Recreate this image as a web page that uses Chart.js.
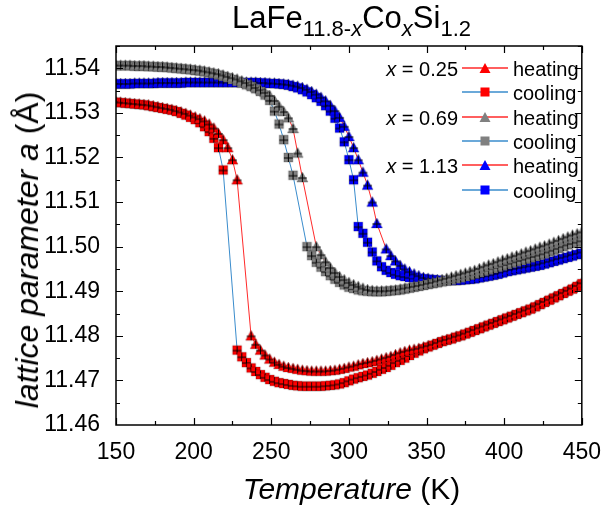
<!DOCTYPE html>
<html>
<head>
<meta charset="utf-8">
<script src="https://cdn.jsdelivr.net/npm/chart.js@4.4.1/dist/chart.umd.min.js"></script>
<style>
  html, body { margin: 0; padding: 0; background: #fff; }
  #wrap { position: relative; width: 607px; height: 509px; font-family: "Liberation Sans", Arial, sans-serif; color: #000; }
  #wrap canvas { position: absolute; left: 0; top: 0; }
  .title { position: absolute; left: 116px; width: 471px; top: 0px; text-align: center; font-size: 31px; line-height: 36px; }
  .title sub { font-size: 22px; vertical-align: -8px; line-height: 0; }
  .xtitle { position: absolute; left: 116px; width: 471px; top: 471px; text-align: center; font-size: 30px; line-height: 36px; }
  .ytitle { position: absolute; left: 27px; top: 250px; transform: translate(-50%, -50%) rotate(-90deg); white-space: nowrap; font-size: 32px; line-height: 38px; }
  .legend { position: absolute; left: 382px; top: 57px; font-size: 20px; }
  .row { position: absolute; height: 24px; line-height: 24px; white-space: nowrap; }
  .row .lab { position: absolute; left: 0; width: 76px; text-align: right; }
  .row svg { position: absolute; left: 80px; top: 6px; }
  .row .txt { position: absolute; left: 131px; }
</style>
</head>
<body>
<div id="wrap">
  <canvas id="c" width="607" height="509"></canvas>
  <div class="title">LaFe<sub>11.8-<i>x</i></sub>Co<sub><i>x</i></sub>Si<sub>1.2</sub></div>
  <div class="xtitle"><i>Temperature</i> (K)</div>
  <div class="ytitle"><i>lattice parameter a</i> (Å)</div>
  <div class="legend" id="legend"></div>
</div>
<script>
// temperature grid (K)
const temps = [
  150,153,156,159,162,165,168,171,174,177,
  180,183,186,189,192,195,198,201,204,207,
  210,213,216,219,222,225,228,231,234,237,
  240,243,246,249,252,255,258,261,264,267,
  270,273,276,279,282,285,288,291,294,297,
  300,303,306,309,312,315,318,321,324,327,
  330,333,336,339,342,345,348,351,354,357,
  360,363,366,369,372,375,378,381,384,387,
  390,393,396,399,402,405,408,411,414,417,
  420,423,426,429,432,435,438,441,444,447,
  450
];

// x = 0.25
const heat025 = [
  11.5325,11.5324,11.5323,11.5322,11.5321,11.5320,11.5319,11.5318,11.5316,11.5314,
  11.5312,11.5310,11.5308,11.5305,11.5302,11.5299,11.5295,11.5291,11.5287,11.5282,
  11.5275,11.5266,11.5254,11.5240,11.5222,11.5195,11.5150,null,null,11.4800,
  11.4781,11.4768,11.4757,11.4748,11.4741,11.4736,11.4732,11.4729,11.4727,11.4725,
  11.4723,11.4722,11.4721,11.4721,11.4721,11.4721,11.4722,11.4723,11.4725,11.4727,
  11.4730,11.4732,11.4735,11.4738,11.4740,11.4742,11.4745,11.4748,11.4751,11.4754,
  11.4758,11.4762,11.4765,11.4768,11.4770,11.4772,11.4775,11.4778,11.4781,11.4785,
  11.4789,11.4792,11.4795,11.4799,11.4802,11.4806,11.4810,11.4814,11.4818,11.4822,
  11.4826,11.4830,11.4834,11.4838,11.4842,11.4846,11.4850,11.4854,11.4858,11.4862,
  11.4867,11.4872,11.4877,11.4882,11.4887,11.4892,11.4897,11.4902,11.4907,11.4913,
  11.4919
];
const cool025 = [
  11.5324,11.5323,11.5322,11.5321,11.5320,11.5319,11.5318,11.5316,11.5314,11.5312,
  11.5310,11.5308,11.5306,11.5303,11.5299,11.5295,11.5290,11.5285,11.5278,11.5269,
  11.5258,11.5243,11.5222,11.5172,null,null,11.4768,11.4753,11.4740,11.4728,
  11.4720,11.4713,11.4707,11.4702,11.4698,11.4695,11.4693,11.4691,11.4689,11.4688,
  11.4687,11.4687,11.4687,11.4687,11.4687,11.4688,11.4689,11.4690,11.4692,11.4695,
  11.4699,11.4703,11.4706,11.4709,11.4712,11.4716,11.4720,11.4725,11.4729,11.4734,
  11.4740,11.4745,11.4750,11.4756,11.4761,11.4766,11.4771,11.4775,11.4779,11.4783,
  11.4787,11.4790,11.4793,11.4797,11.4800,11.4804,11.4808,11.4812,11.4816,11.4820,
  11.4824,11.4828,11.4832,11.4836,11.4840,11.4844,11.4848,11.4852,11.4856,11.4860,
  11.4865,11.4870,11.4875,11.4880,11.4885,11.4890,11.4895,11.4900,11.4905,11.4911,
  11.4917
];

// x = 0.69
const heat069 = [
  11.5407,11.5407,11.5407,11.5407,11.5406,11.5406,11.5406,11.5405,11.5405,11.5404,
  11.5404,11.5403,11.5402,11.5401,11.5400,11.5399,11.5398,11.5397,11.5396,11.5394,
  11.5392,11.5390,11.5388,11.5385,11.5382,11.5379,11.5376,11.5372,11.5368,11.5363,
  11.5357,11.5352,11.5346,11.5339,11.5328,11.5315,11.5303,11.5289,11.5265,11.5210,
  11.5155,null,null,11.5000,11.4982,11.4966,11.4953,11.4942,11.4933,11.4926,
  11.4920,11.4915,11.4911,11.4907,11.4904,11.4902,11.4901,11.4901,11.4901,11.4902,
  11.4903,11.4905,11.4907,11.4909,11.4911,11.4913,11.4915,11.4918,11.4920,11.4923,
  11.4926,11.4929,11.4932,11.4935,11.4938,11.4941,11.4944,11.4947,11.4951,11.4955,
  11.4959,11.4962,11.4966,11.4970,11.4973,11.4977,11.4980,11.4984,11.4988,11.4991,
  11.4995,11.4999,11.5002,11.5006,11.5010,11.5014,11.5018,11.5022,11.5026,11.5029,
  11.5033
];
const cool069 = [
  11.5406,11.5406,11.5406,11.5406,11.5405,11.5405,11.5405,11.5404,11.5404,11.5403,
  11.5403,11.5402,11.5401,11.5400,11.5399,11.5398,11.5397,11.5395,11.5394,11.5392,
  11.5390,11.5388,11.5385,11.5382,11.5379,11.5375,11.5371,11.5367,11.5363,11.5359,
  11.5354,11.5348,11.5340,11.5328,11.5304,11.5275,11.5240,11.5200,11.5160,null,
  null,11.5000,11.4980,11.4965,11.4954,11.4944,11.4935,11.4927,11.4920,11.4914,
  11.4909,11.4906,11.4903,11.4901,11.4900,11.4899,11.4899,11.4899,11.4900,11.4901,
  11.4902,11.4903,11.4905,11.4907,11.4909,11.4911,11.4913,11.4915,11.4917,11.4919,
  11.4921,11.4923,11.4925,11.4928,11.4930,11.4933,11.4936,11.4939,11.4942,11.4945,
  11.4948,11.4951,11.4954,11.4957,11.4960,11.4963,11.4966,11.4969,11.4972,11.4975,
  11.4978,11.4981,11.4984,11.4988,11.4992,11.4996,11.5000,11.5004,11.5007,11.5010,
  11.5013
];

// x = 1.13
const heat113 = [
  11.5366,11.5366,11.5366,11.5366,11.5367,11.5367,11.5367,11.5367,11.5367,11.5368,
  11.5368,11.5368,11.5368,11.5368,11.5368,11.5369,11.5369,11.5369,11.5369,11.5369,
  11.5369,11.5369,11.5369,11.5369,11.5369,11.5369,11.5369,11.5369,11.5369,11.5369,
  11.5369,11.5368,11.5368,11.5367,11.5367,11.5366,11.5365,11.5364,11.5362,11.5360,
  11.5357,11.5353,11.5348,11.5342,11.5335,11.5327,11.5317,11.5305,11.5290,11.5270,
  11.5247,11.5222,11.5195,11.5167,11.5138,11.5100,11.5052,null,11.4995,11.4980,
  11.4968,11.4958,11.4950,11.4944,11.4939,11.4935,11.4931,11.4929,11.4927,11.4926,
  11.4925,11.4925,11.4925,11.4925,11.4926,11.4927,11.4928,11.4929,11.4931,11.4933,
  11.4935,11.4937,11.4940,11.4943,11.4946,11.4949,11.4951,11.4953,11.4955,11.4957,
  11.4959,11.4961,11.4964,11.4967,11.4970,11.4973,11.4976,11.4979,11.4982,11.4985,
  11.4988
];
const cool113 = [
  11.5365,11.5365,11.5365,11.5365,11.5366,11.5366,11.5366,11.5366,11.5366,11.5367,
  11.5367,11.5367,11.5367,11.5367,11.5367,11.5368,11.5368,11.5368,11.5368,11.5368,
  11.5368,11.5368,11.5368,11.5368,11.5368,11.5368,11.5368,11.5368,11.5368,11.5368,
  11.5368,11.5367,11.5367,11.5366,11.5366,11.5365,11.5364,11.5362,11.5359,11.5356,
  11.5352,11.5347,11.5341,11.5334,11.5326,11.5316,11.5304,11.5288,11.5266,11.5235,
  11.5195,11.5150,11.5045,11.5030,11.5010,11.4988,11.4968,11.4955,11.4947,11.4942,
  11.4938,11.4935,11.4933,11.4931,11.4930,11.4929,11.4928,11.4927,11.4926,11.4925,
  11.4924,11.4924,11.4924,11.4924,11.4925,11.4926,11.4927,11.4928,11.4930,11.4932,
  11.4934,11.4936,11.4938,11.4941,11.4944,11.4946,11.4948,11.4950,11.4952,11.4954,
  11.4956,11.4958,11.4961,11.4964,11.4967,11.4970,11.4973,11.4976,11.4979,11.4982,
  11.4985
];

const xTicks = [150, 200, 250, 300, 350, 400, 450];
const yTicks = [11.46, 11.47, 11.48, 11.49, 11.50, 11.51, 11.52, 11.53, 11.54];
const groups = ['0.25', '0.69', '1.13'];

const RED = '#ff0000', GREY = '#808080', BLUE = '#0000ff';
const HEAT_LINE = '#ff2a2a', COOL_LINE = '#3a8ccc';

// marker with black error-bar cross on top
function marker(shape, color) {
  const c = document.createElement('canvas');
  c.width = 13; c.height = 13;
  const g = c.getContext('2d');
  g.fillStyle = color;
  g.strokeStyle = 'rgba(0,0,0,0.35)';
  g.lineWidth = 0.6;
  if (shape === 'square') {
    g.fillRect(2, 2, 9, 9);
    g.strokeRect(2, 2, 9, 9);
  } else {
    g.beginPath(); g.moveTo(6.5, 1); g.lineTo(12, 11); g.lineTo(1, 11); g.closePath();
    g.fill(); g.stroke();
  }
  g.strokeStyle = '#000'; g.lineWidth = 1;
  g.beginPath();
  g.moveTo(2, 7); g.lineTo(11, 7);
  g.moveTo(6.5, 2.5); g.lineTo(6.5, 11);
  g.stroke();
  return c;
}

const toPts = arr => temps.map((t, i) => ({ x: t, y: arr[i] }));

function ds(label, arr, shape, color, lineColor) {
  return {
    label, data: toPts(arr), borderColor: lineColor, borderWidth: 1,
    pointStyle: marker(shape, color), pointRadius: 5, spanGaps: true, clip: 0
  };
}

const datasets = [
  ds('0.25 heating', heat025, 'tri', RED, HEAT_LINE),
  ds('0.25 cooling', cool025, 'square', RED, COOL_LINE),
  ds('0.69 heating', heat069, 'tri', GREY, HEAT_LINE),
  ds('0.69 cooling', cool069, 'square', GREY, COOL_LINE),
  ds('1.13 heating', heat113, 'tri', BLUE, HEAT_LINE),
  ds('1.13 cooling', cool113, 'square', BLUE, COOL_LINE)
];

// frame + inward ticks on all four sides
const framePlugin = {
  id: 'frame',
  afterDraw(chart) {
    const { ctx, chartArea: a, scales: { x, y } } = chart;
    ctx.save();
    ctx.strokeStyle = '#000';
    ctx.lineWidth = 1.5;
    ctx.strokeRect(a.left, a.top, a.right - a.left, a.bottom - a.top);
    ctx.lineWidth = 1.2;
    ctx.beginPath();
    const xs = [];
    xTicks.forEach((t, i) => {
      xs.push([t, 7]);
      if (i < xTicks.length - 1) xs.push([(t + xTicks[i + 1]) / 2, 4]);
    });
    xs.forEach(([t, len]) => {
      const px = Math.round(x.getPixelForValue(t)) + 0.5;
      ctx.moveTo(px, a.bottom); ctx.lineTo(px, a.bottom - len);
      ctx.moveTo(px, a.top); ctx.lineTo(px, a.top + len);
    });
    const ys = [];
    yTicks.forEach(t => {
      ys.push([t, 7]);
      ys.push([t + 0.005, 4]);
    });
    ys.forEach(([t, len]) => {
      const py = Math.round(y.getPixelForValue(t)) + 0.5;
      if (py < a.top || py > a.bottom) return;
      ctx.moveTo(a.left, py); ctx.lineTo(a.left + len, py);
      ctx.moveTo(a.right, py); ctx.lineTo(a.right - len, py);
    });
    ctx.stroke();
    ctx.restore();
  }
};

new Chart(document.getElementById('c'), {
  type: 'line',
  data: { datasets },
  options: {
    responsive: false,
    animation: false,
    layout: { padding: { top: 46, right: 20, left: 0, bottom: 0 } },
    plugins: { legend: { display: false }, tooltip: { enabled: false } },
    scales: {
      x: {
        type: 'linear', min: 150, max: 450,
        afterBuildTicks: s => { s.ticks = xTicks.map(v => ({ value: v })); },
        grid: { display: false }, border: { display: false },
        ticks: { color: '#000', padding: 6, maxRotation: 0, font: { family: 'Liberation Sans', size: 23 } },
        afterFit: s => { s.height = 84; }
      },
      y: {
        type: 'linear', min: 11.46, max: 11.545,
        afterBuildTicks: s => { s.ticks = yTicks.map(v => ({ value: v })); },
        grid: { display: false }, border: { display: false },
        ticks: { color: '#000', padding: 8, font: { family: 'Liberation Sans', size: 23 }, callback: v => v.toFixed(2) },
        afterFit: s => { s.width = 116; }
      }
    }
  },
  plugins: [framePlugin]
});

// legend
const legend = document.getElementById('legend');
const triSvg = c => `<polygon points="23,0 28.5,10 17.5,10" fill="${c}"/>`;
const sqSvg = c => `<rect x="18.5" y="0.5" width="9" height="9" fill="${c}"/>`;
[RED, GREY, BLUE].forEach((col, gi) => {
  [['heating', HEAT_LINE, triSvg], ['cooling', COOL_LINE, sqSvg]].forEach(([name, lc, shp], k) => {
    const row = document.createElement('div');
    row.className = 'row';
    row.style.top = ((gi * 2 + k) * 24.3) + 'px';
    row.style.left = '0px';
    row.innerHTML = (k === 0 ? `<span class="lab"><i>x</i> = ${groups[gi]}</span>` : '') +
      `<svg width="46" height="11"><line x1="0" y1="5" x2="46" y2="5" stroke="${lc}" stroke-width="1.6"/>${shp(col)}</svg>` +
      `<span class="txt">${name}</span>`;
    legend.appendChild(row);
  });
});
</script>
</body>
</html>
